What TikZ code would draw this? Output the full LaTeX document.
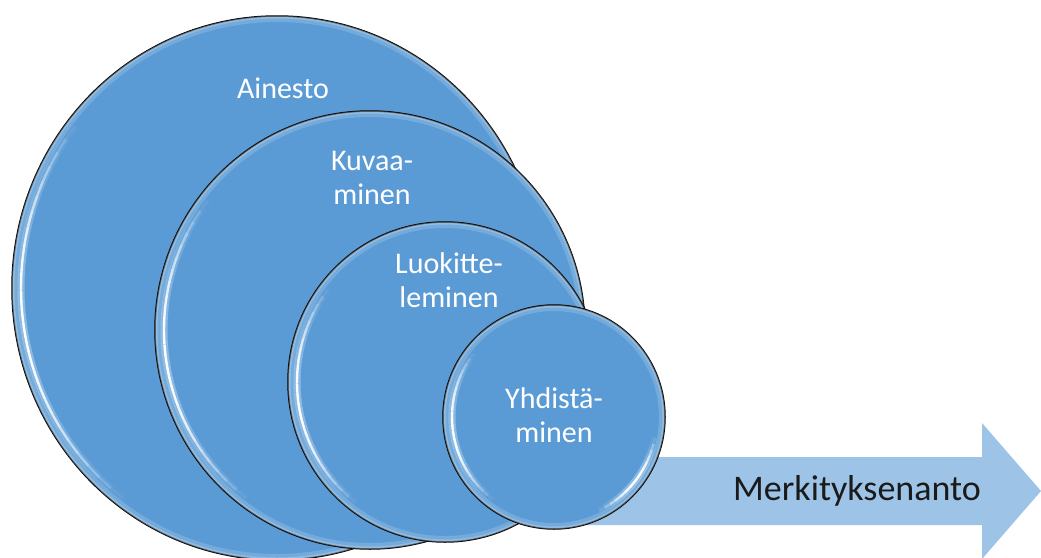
\documentclass[tikz,border=0pt]{standalone}
\usepackage{fontspec}
\setmainfont{Carlito}
\usetikzlibrary{shapes.geometric}
\definecolor{discblue}{HTML}{5B9BD5}
\definecolor{arrowblue}{HTML}{9DC3E6}
\definecolor{labelink}{HTML}{1A1A1A}
\definecolor{glow}{HTML}{C9E2F8}
\tikzset{
  disc/.style={ellipse, draw=black, line width=1.5pt, fill=discblue, inner sep=0pt},
  disclabel/.style={text=white, font=\fontsize{30}{34}\selectfont, align=center, inner sep=0pt},
  flowlabel/.style={text=labelink, font=\fontsize{36}{40}\selectfont, inner sep=0pt},
}
% one glossy highlight arc with faded ends
% #1,#2 centre, #3,#4 radii, #5 start angle, #6 number of pieces, #7 inset
\newcommand{\gloss}[7]{%
  \foreach \k in {1,...,#6}{%
    \pgfmathsetmacro{\aa}{#5-(\k-1)*3.5}%
    \pgfmathsetmacro{\op}{sin(180*(\k-0.5)/#6)}%
    \pgfmathsetmacro{\opg}{0.45*\op}%
    \draw[glow, opacity=\opg, line width=7pt]
      (#1,#2) ++(\aa:{#3-#7} and {#4-#7})
      arc[start angle=\aa, end angle=\aa-3.5, x radius=#3-#7, y radius=#4-#7];
    \draw[white, opacity=\op, line width=2.4pt]
      (#1,#2) ++(\aa:{#3-#7} and {#4-#7})
      arc[start angle=\aa, end angle=\aa-3.5, x radius=#3-#7, y radius=#4-#7];
  }%
}
% bevel: faint light rim inside the outline plus two highlight arcs
\newcommand{\discbevel}[4]{%
  \begin{scope}
    \clip (#1,#2) ellipse [x radius=#3, y radius=#4];
    \draw[white, opacity=0.16, line width=12pt] (#1,#2) ellipse [x radius=#3, y radius=#4];
    \draw[white, opacity=0.2, line width=5pt] (#1,#2) ellipse [x radius=#3, y radius=#4];
  \end{scope}
  \gloss{#1}{#2}{#3}{#4}{218}{26}{9}%
  \gloss{#1}{#2}{#3}{#4}{64}{15}{8}%
}
\begin{document}
\begin{tikzpicture}[x=1pt, y=-1pt]
  \useasboundingbox (0,0) rectangle (1041,557);

  % flow arrow behind the discs
  \coordinate (tip) at (1041,491);
  \fill[arrowblue] (560,457) -- (982,457) -- (982,423) -- (tip) -- (982,559)
    -- (982,525) -- (560,525) -- cycle;
  \node[flowlabel] (flow) at (857,491) {Merkityksenanto};

  % nested discs, largest first
  \node[disc, minimum width=530pt, minimum height=544pt] (ainesto) at (277,288) {};
  \discbevel{277}{288}{265}{272}
  \node[disc, minimum width=430pt, minimum height=438pt] (kuvaa) at (370,330) {};
  \discbevel{370}{330}{215}{219}
  \node[disc, minimum width=314pt, minimum height=320pt] (luokittelu) at (445,382) {};
  \discbevel{445}{382}{157}{160}
  \node[disc, minimum width=222pt, minimum height=224pt] (yhdistys) at (554,417) {};
  \discbevel{554}{417}{111}{112}

  \node[disclabel, anchor=base] (t1) at (283,98) {Ainesto};
  \node[disclabel] (t2) at (372,178) {Kuvaa-\\minen};
  \node[disclabel] (t3) at (449,280) {Luokitte-\\leminen};
  \node[disclabel] (t4) at (554,415) {Yhdistä-\\minen};
\end{tikzpicture}
\end{document}
